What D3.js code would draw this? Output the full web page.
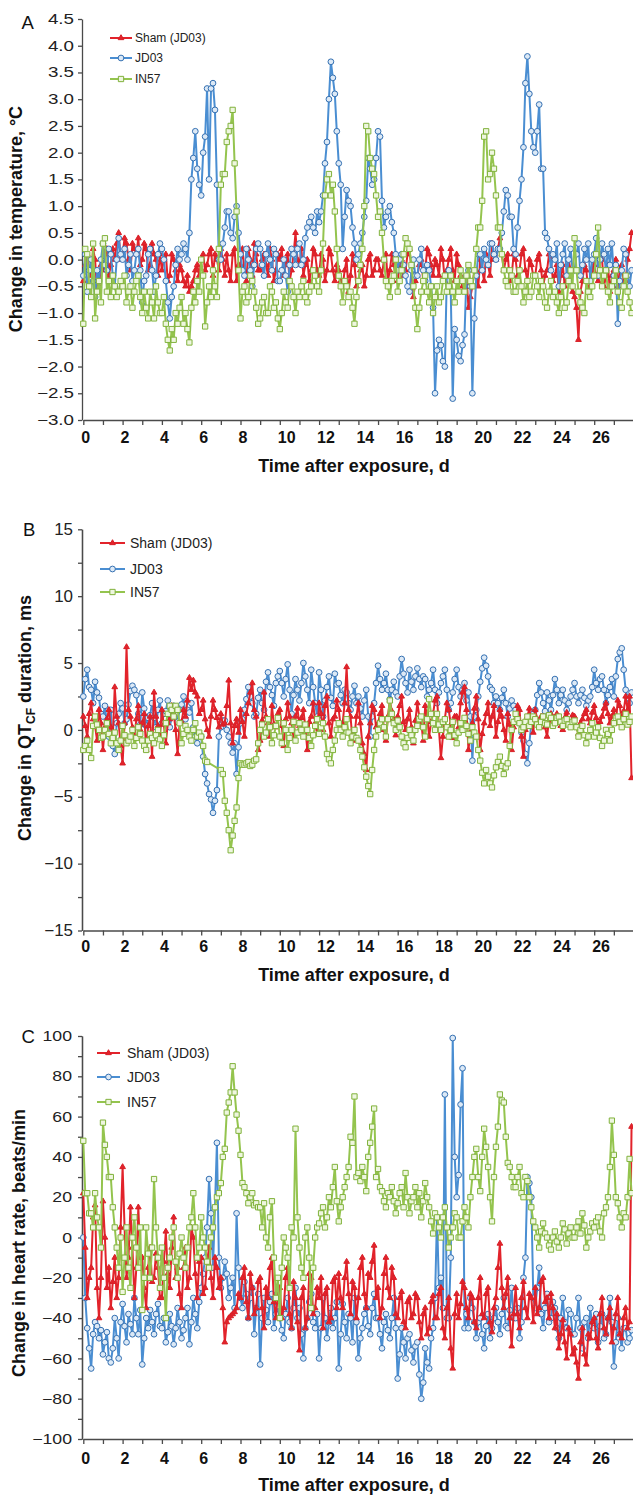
<!DOCTYPE html>
<html>
<head>
<meta charset="utf-8">
<script src="https://cdn.jsdelivr.net/npm/d3@7"></script>
<style>
  body { margin: 0; background: #fff; }
  svg { display: block; font-family: "Liberation Sans", Arial, sans-serif; }
</style>
</head>
<body>
<svg id="chart" width="633" height="1496"></svg>
<script>
// sampling grid: 10 readings per day, days 0 - 27.9 (one row per day below)
const timeDays = d3.range(280).map(i => i / 10);
const xTicks = d3.range(0, 29);

const seriesNames = ["Sham (JD03)", "JD03", "IN57"];

// Panel A: change in temperature (deg C)
const tempSham = [
  -0.4, -0.1, 0.1, -0.2, -0.3, 0.2, 0.0, -0.6, -0.5, -0.1,
  -0.2, 0.1, 0.2, -0.3, -0.1, 0.2, 0.0, 0.3, 0.5, 0.0,
  0.1, 0.4, 0.3, 0.0, -0.2, 0.3, 0.2, 0.1, 0.4, -0.1,
  0.0, 0.3, 0.2, -0.2, -0.1, 0.3, 0.1, 0.0, -0.3, 0.1,
  -0.2, 0.0, 0.1, -0.4, -0.3, 0.1, 0.0, -0.2, -0.4, -0.1,
  -0.2, -0.4, -0.5, -0.3, -0.6, -0.5, -0.4, -0.2, -0.1, -0.3,
  0.0, 0.1, -0.2, -0.1, 0.1, 0.2, -0.3, 0.1, 0.0, -0.2,
  0.2, 0.0, -0.3, 0.1, -0.2, -0.4, 0.1, 0.2, -0.4, -0.1,
  -0.1, 0.2, -0.2, -0.4, 0.2, 0.0, -0.3, 0.3, 0.1, -0.2,
  -0.2, 0.0, 0.1, -0.1, -0.3, 0.2, 0.0, -0.4, -0.2, 0.1,
  0.0, 0.2, -0.3, -0.1, 0.1, -0.4, -0.2, 0.1, 0.5, 0.0,
  -0.1, 0.2, -0.3, -0.1, 0.0, -0.4, -0.2, 0.2, 0.1, -0.2,
  -0.3, 0.1, 0.0, -0.4, -0.2, 0.2, 0.1, -0.2, -0.4, -0.1,
  -0.2, -0.4, -0.5, -0.2, 0.0, -0.6, -0.3, 0.1, -0.1, -0.5,
  -0.4, -0.2, -0.1, -0.5, -0.3, 0.0, 0.1, -0.3, -0.2, 0.0,
  0.0, -0.2, -0.3, 0.0, 0.1, -0.4, -0.2, 0.1, -0.1, -0.3,
  -0.4, -0.1, 0.0, -0.3, -0.2, 0.1, 0.2, -0.2, -0.7, -0.4,
  -0.3, -0.1, 0.0, -0.4, -0.2, 0.2, 0.1, -0.1, -0.3, 0.0,
  -0.1, -0.3, 0.2, 0.0, -0.4, -0.2, 0.0, 0.2, -0.2, -0.4,
  0.1, -0.1, -0.3, -0.5, -0.6, -0.3, -0.9, -0.7, -0.5, -0.2,
  -0.2, -0.5, 0.0, -0.2, -0.4, 0.1, -0.1, -0.3, 0.3, 0.0,
  0.0, 0.2, 0.4, 0.1, -0.2, 0.0, 0.1, -0.4, -0.3, 0.1,
  0.0, -0.3, -0.2, 0.1, 0.2, -0.2, -0.4, 0.0, -0.1, -0.3,
  -0.3, 0.0, 0.1, -0.2, -0.5, -0.3, -0.2, 0.1, 0.0, -0.4,
  -0.3, -0.1, -0.6, -0.3, -0.1, -0.5, -0.4, 0.0, -0.2, -0.6,
  -0.7, -0.9, -1.5, -0.6, -0.4, -0.1, -0.2, -0.6, -0.5, -0.2,
  -0.1, -0.3, -0.4, 0.1, 0.0, -0.5, -0.3, -0.1, -0.6, -0.3,
  -0.2, 0.0, -0.5, -0.2, -0.1, -0.4, -0.4, 0.0, 0.2, 0.5
];
const tempJD03 = [
  -0.3, 0.1, -0.6, -0.2, 0.0, -0.4, -0.7, -0.2, -0.4, 0.0,
  0.3, -0.1, -0.2, 0.2, 0.1, -0.3, -0.5, 0.0, 0.4, 0.1,
  0.0, 0.2, -0.3, -0.1, 0.1, -0.4, -0.2, 0.1, 0.2, -0.2,
  -0.8, -0.4, -0.3, 0.1, 0.2, -0.2, -0.6, -0.3, 0.1, 0.3,
  0.2, 0.0, -0.4, -0.8, -1.1, -0.7, -0.5, -0.1, 0.2, 0.0,
  0.1, 0.3, 0.2, 0.0, 0.5, 1.5, 1.9, 2.4, 1.7, 1.4,
  1.2, 2.0, 2.3, 3.2, 1.5, 3.2, 3.3, 2.8, 1.4, 0.0,
  0.0, 0.3, 0.6, 0.9, 0.9, 0.5, 0.4, 0.8, 1.0, 0.5,
  0.1, -0.2, -0.3, 0.2, 0.0, -0.2, -0.5, -0.1, 0.2, 0.3,
  0.2, -0.1, -0.3, 0.1, 0.3, 0.0, -0.2, 0.2, 0.1, -0.4,
  -0.4, -0.2, 0.0, -0.3, -0.6, -0.1, 0.2, 0.1, -0.1, 0.2,
  0.3, -0.1, 0.0, 0.4, 0.6, 0.7, 0.8, 0.6, 0.5, 0.9,
  0.7, 0.9, 1.2, 1.8, 2.2, 3.0, 3.7, 3.4, 3.1, 2.4,
  1.8, 1.4, 0.2, 0.8, 1.3, 1.1, 1.0, 0.6, 0.3, 0.0,
  0.1, 0.3, 0.5, 0.8, 1.1, 1.9, 1.7, 1.4, 1.5, 1.9,
  2.4, 2.3, 1.1, 0.6, 0.8, 0.9, 1.0, 0.7, 0.5, 0.1,
  -0.2, 0.0, 0.1, -0.1, -0.3, -0.5, -0.6, -0.2, 0.0, -0.3,
  -0.3, 0.0, 0.2, -0.2, -0.4, -0.1, -0.2, -0.5, -0.9, -2.5,
  -1.7, -1.5, -1.6, -1.9, -2.0, -0.3, -0.2, -0.6, -2.6, -1.3,
  -1.5, -1.8, -1.9, -1.6, -1.4, -0.3, -0.2, -0.5, -2.5, -1.1,
  -0.3, 0.1, 0.1, -0.2, 0.2, 0.0, -0.1, 0.3, 0.3, 0.1,
  0.0, 0.2, 0.2, 0.5, 0.9, 1.3, 1.2, 0.8, 0.8, 0.2,
  0.1, 0.6, 1.1, 1.5, 2.1, 3.3, 3.8, 3.1, 2.4, 2.1,
  2.0, 2.4, 2.9, 1.7, 1.7, 0.5, 0.4, 0.2, -0.2, 0.1,
  0.0, 0.3, -0.5, -0.1, 0.1, 0.3, -0.3, 0.0, 0.2, -0.2,
  -0.2, 0.1, 0.3, -0.3, -0.1, 0.2, 0.0, 0.3, -0.4, 0.0,
  0.1, 0.4, -0.3, 0.0, 0.3, 0.1, -0.2, 0.2, -0.1, 0.3,
  -0.3, -0.1, -1.2, -0.4, -0.2, 0.2, 0.1, -0.3, -0.5, -0.2
];
const tempIN57 = [
  -1.2, 0.2, 0.1, -0.5, -0.7, 0.3, -1.1, -0.6, -0.4, -0.8,
  0.3, 0.4, -0.6, -0.4, -0.7, -0.3, -0.5, -0.7, -0.6, -0.4,
  -0.5, -0.3, -0.8, -0.6, -0.5, -0.9, -0.6, -0.4, -0.3, -0.7,
  -1.0, -0.6, -0.9, -1.1, -0.6, -0.8, -1.1, -0.5, -0.8, -1.0,
  -1.0, -0.7, -1.2, -1.5, -1.7, -1.3, -1.5, -1.0, -1.2, -0.9,
  -0.7, -1.2, -1.0, -1.3, -1.55, -0.9, -0.6, -0.8, -0.4, -0.6,
  0.0, -0.3, -1.25, -0.8, -0.5, -0.7, -0.2, -0.5, -0.7, 0.2,
  1.4, 1.6, 1.6, 2.2, 2.4, 2.5, 2.8, 1.8, 0.9, -0.2,
  -1.1, -0.6, -0.5, -0.8, -0.7, -0.3, -0.4, -0.6, -0.9, -1.2,
  -1.1, -0.8, -0.7, -1.0, -1.0, -0.5, -0.6, -0.9, -0.8, -1.1,
  -1.3, -1.0, -0.6, -0.8, -0.9, -0.4, -0.5, -0.7, -1.0, -0.6,
  -0.7, -0.5, -0.4, -0.7, -0.8, -0.6, -0.5, -0.2, -0.3, -0.5,
  -0.6, -0.2, 0.3, 1.2, 1.5, 1.6, 1.2, 1.4, 0.9, 0.2,
  -0.3, -0.5, -0.8, -0.4, -0.5, -0.7, -0.6, -0.9, -1.2, -0.7,
  -0.4, -0.1, 0.2, 1.0, 2.5, 2.4, 1.9, 1.7, 1.6, 1.2,
  0.8, 0.9, 0.5, 0.0, -0.4, -0.5, -0.7, -0.4, -0.3, 0.0,
  -0.6, -0.4, -0.2, 0.1, 0.4, 0.3, 0.2, -0.1, -0.5, -0.9,
  -1.3, -0.9, -0.6, -0.4, -0.3, -0.6, -0.8, -0.5, -1.0, -0.7,
  -0.5, -0.8, -0.7, -0.4, -0.3, -0.6, -0.5, -0.3, -0.6, -0.8,
  -0.4, -0.6, -0.2, -0.4, -0.6, -0.3, -0.1, -0.4, -0.5, -0.2,
  0.2, 0.6, 0.6, 1.1, 2.3, 2.4, 1.5, 1.6, 2.0, 1.7,
  1.2, 0.6, 0.6, 0.1, -0.2, -0.4, -0.5, -0.2, -0.3, -0.6,
  -0.6, -0.4, -0.2, -0.5, -0.8, -0.6, -0.4, -0.7, -0.6, -0.3,
  -0.3, -0.5, -0.7, -0.4, -0.5, -0.8, -0.9, -0.6, -0.4, -0.7,
  -0.6, -0.8, -1.0, -0.7, -0.5, -0.9, -0.8, -0.4, -0.2, -0.5,
  0.4, -0.2, -0.6, -0.8, -0.9, -1.0, -0.4, -0.6, -0.7, -0.5,
  -0.3, 0.1, 0.6, -0.2, -0.5, -0.3, -0.2, -0.6, -0.8, -0.5,
  -0.4, -0.2, -0.6, -0.8, -0.9, -0.5, -0.3, -0.6, -0.8, -1.0
];

// Panel B: change in QTcf duration (ms)
const qtSham = [
  1.0, 0.3, -0.5, 1.2, 2.0, 0.8, 0.3, -0.8, 1.5, 0.5,
  -1.5, 0.2, 0.8, 1.5, 0.2, -0.6, 3.2, 1.0, 0.5, -1.2,
  -2.5, 0.5, 6.2, 1.5, 1.0, 0.2, -0.5, 0.8, 1.8, 0.0,
  0.5, 1.2, -1.5, 0.3, 1.0, -2.0, 2.8, 1.0, 0.3, -0.5,
  1.5, 0.4, -1.0, 0.5, 0.8, 1.8, 1.2, 0.0, -1.8, 0.5,
  0.6, 1.5, 1.0, 2.2, 3.9, 3.0, 3.7, 2.8, 2.5, 1.2,
  1.5, 2.2, 0.8, 0.0, -0.5, 1.0, 2.2, 1.5, 0.9, 0.2,
  1.2, 0.4, 0.5, 1.8, 3.7, 0.5, -1.0, 0.3, 0.8, -0.2,
  1.5, 0.6, -0.5, 1.2, 2.0, 2.8, 3.5, 1.5, 1.0, -1.5,
  -0.8, 0.7, 2.8, 1.0, 0.5, -0.5, 1.8, 0.4, 0.2, 1.2,
  1.5, 0.3, -1.2, 0.8, 2.0, 1.0, 0.5, -0.6, 1.0, 1.6,
  0.3, 0.9, 1.5, 0.2, -1.5, 0.6, 1.0, 2.0, 0.5, -0.3,
  2.0, 1.2, 0.0, 1.8, 2.5, 0.5, -0.5, 0.8, 1.0, 2.2,
  1.5, 0.2, 0.5, 2.0, 4.7, 1.5, 1.0, -0.8, -0.5, 1.0,
  2.0, 0.5, -1.0, -1.8, -3.0, -0.5, 0.5, 1.8, 1.5, 0.2,
  0.5, 1.2, 1.8, 0.0, -0.8, 1.0, 2.2, 1.4, 0.8, -0.4,
  1.0, 1.8, 2.5, 0.6, 0.0, 0.8, 1.5, 0.2, -1.0, 0.7,
  2.0, 1.0, 0.5, -0.8, 1.8, 1.0, -0.5, 0.6, 1.2, 2.2,
  2.5, 0.0, -2.1, -0.5, 0.8, 2.0, 1.5, 0.4, -0.6, 1.0,
  1.0, 0.2, 2.0, 2.8, 3.2, 1.5, -1.5, -0.2, 0.5, 1.6,
  2.5, 0.8, -1.5, -0.3, 0.5, 1.2, 2.0, 0.3, 1.0, 1.8,
  -0.5, 0.6, 1.5, 1.0, 0.0, -0.8, 1.2, 0.4, -1.5, 0.2,
  0.8, 1.8, 1.5, -0.5, -2.0, 0.0, 1.0, 1.6, 0.5, -0.2,
  1.5, 0.8, 0.3, 1.0, 1.0, 0.2, -0.5, 0.7, 1.2, 0.5,
  0.5, 1.2, 1.0, 0.3, 0.0, 0.9, 1.3, 0.6, 0.4, 1.1,
  1.0, 0.2, -0.3, 0.5, 0.8, 1.2, 1.5, 0.8, 0.5, 1.3,
  1.8, 0.9, 0.2, 0.6, 1.0, 1.6, 2.0, 1.2, 0.5, 1.0,
  1.5, 0.5, 2.2, 1.8, 0.8, 1.4, 2.5, 1.5, 2.5, -3.6
];
const qtJD03 = [
  2.5, 3.8, 4.5, 3.2, 3.0, 2.0, 3.6, 2.8, 2.4, 1.2,
  1.0, 1.8, 0.5, -0.5, 1.5, -1.2, -1.8, 0.5, 1.2, 2.0,
  1.6, 0.5, 0.8, 1.9, 2.9, 3.3, 3.0, 2.6, 1.2, 0.4,
  2.8, 1.6, 0.3, 0.9, 1.1, 2.0, 0.9, 0.2, 1.5, 2.2,
  0.5, 1.2, 1.4, 2.2, 0.2, 1.0, 1.8, 1.2, 0.6, 1.5,
  1.9, 2.5, 0.8, 1.5, 1.3, 2.0, 0.2, -0.5, -1.0, -0.3,
  -0.5, -2.0, -3.3, -4.0, -4.8, -5.2, -6.2, -5.3, -4.5, -0.5,
  0.2, 0.7, 0.7, 0.0, -0.5, -1.0, -1.7, -1.0, -3.3, -1.3,
  0.5, 0.8, 1.5, 2.3, 3.2, 2.5, 2.0, 1.0, 1.2, 2.4,
  3.0, 2.0, 1.5, 3.6, 4.3, 3.2, 2.6, 1.8, 3.5, 4.0,
  4.4, 3.5, 2.5, 3.8, 4.9, 3.0, 1.2, 2.6, 3.8, 3.0,
  2.2, 3.5, 5.0, 4.0, 3.0, 2.0, 4.5, 3.2, 2.0, 1.0,
  4.3, 3.0, 1.0, 2.2, 3.2, 4.0, 2.4, 1.8, 4.2, 3.4,
  3.5, 2.6, 2.0, 3.0, 2.8, 2.0, 1.5, 2.5, 3.3, 2.0,
  2.5, 1.6, 1.0, 2.2, 3.0, 1.0, -0.5, 1.0, 2.0, 3.5,
  4.8, 3.8, 3.0, 3.5, 4.2, 3.0, 2.3, 3.0, 3.6, 2.8,
  2.5, 4.0, 5.3, 4.2, 3.5, 2.8, 4.5, 3.6, 3.0, 4.0,
  4.6, 3.8, 3.2, 4.0, 3.8, 2.5, 3.0, 3.5, 4.5, 3.0,
  2.0, 2.8, 3.5, 4.0, 4.5, 3.0, 1.5, 2.0, 2.8, 3.8,
  4.5, 3.2, 2.5, 3.0, 3.5, 2.2, 2.8, 1.0, -2.3, 1.0,
  1.5, 2.5, 3.6, 4.6, 5.4, 4.8, 4.0, 3.2, 3.0, 2.0,
  2.5, 2.0, 1.5, 2.4, 3.0, 2.0, 1.0, 1.6, 2.2, 1.8,
  1.5, 1.0, 0.5, -0.2, -0.8, -1.8, -2.5, -1.0, 0.5, 1.2,
  1.5, 2.6, 3.5, 2.8, 2.0, 1.4, 2.8, 2.2, 1.5, 2.6,
  3.8, 3.0, 2.0, 2.6, 3.0, 2.2, 1.5, 2.0, 2.5, 3.0,
  3.5, 2.5, 2.0, 2.6, 3.0, 2.4, 1.8, 2.2, 2.5, 3.2,
  4.5, 3.5, 3.0, 3.8, 4.0, 3.0, 2.0, 2.6, 3.2, 3.8,
  2.5, 4.0, 5.3, 5.8, 6.1, 4.5, 3.0, 2.4, 2.0, 2.8
];
const qtIN57 = [
  -1.5, -1.2, -0.8, -1.5, -2.1, 0.3, 1.0, 0.4, 0.0, -0.6,
  -0.5, 0.0, 0.5, -0.3, -1.0, -0.6, -0.2, -1.0, -1.5, -0.8,
  0.3, -0.4, -1.0, -0.8, -0.5, 0.0, -1.2, -0.6, 0.2, -0.3,
  -0.8, -1.2, -1.5, -0.8, -0.3, -0.6, -1.0, -0.4, 0.0, -0.7,
  -1.2, -0.4, 0.5, 1.2, 1.8, 1.5, 1.0, 1.8, 1.5, 0.5,
  -1.0, -0.3, 0.3, 0.0, -0.5, -0.8, 0.0, 0.5, -0.5, -0.2,
  -0.5, -1.2, -2.3, -2.4, null, null, null, null, null, null,
  -3.0, -3.3, -5.3, -6.2, -7.5, -9.0, -7.9, -6.8, -5.8, -3.6,
  -2.5, -2.6, -2.6, -2.5, -2.4, -2.7, -2.6, -2.3, -2.2, -1.0,
  0.0, 0.4, -0.5, -0.2, 0.8, 0.2, -1.0, -0.4, 0.3, 0.9,
  -0.5, -1.0, 0.5, 0.0, -1.5, -0.6, 0.0, 0.6, -0.8, -0.2,
  0.5, 0.0, -0.5, 0.4, 0.0, -0.6, -1.2, -0.4, 0.3, 0.8,
  -0.3, 0.2, 0.5, -0.5, -1.8, -2.2, -2.5, -1.5, -0.8, 0.0,
  0.5, 0.0, -0.5, 0.2, 0.8, -0.2, -1.0, -0.5, 0.0, -0.6,
  -0.8, -1.5, -2.0, -2.8, -3.5, -4.2, -4.8, -3.0, -1.5, -0.5,
  0.0, 0.5, 0.8, 0.2, -0.5, 0.8, 2.2, 1.2, 0.5, 0.0,
  0.7, 0.2, -0.5, -1.0, -1.3, -0.6, 0.0, -0.4, -0.8, 0.0,
  0.3, 0.8, 1.0, 0.2, -0.5, 0.8, 2.3, 1.2, 0.5, 0.0,
  1.2, 0.4, 0.0, 0.6, 0.8, 0.2, -0.5, 0.0, 0.6, -0.4,
  -1.0, -0.2, 0.5, 0.0, 0.9, 0.3, -0.3, -0.8, 0.2, -0.2,
  -0.5, -1.5, -2.3, -3.2, -4.0, -3.0, -3.5, -4.0, -4.3, -3.4,
  -2.8, -2.4, -2.0, -2.7, -3.3, -2.8, -2.5, -1.2, 0.0, 0.6,
  1.2, 0.8, 0.5, 0.0, 0.2, 0.6, 1.0, 0.3, 0.6, 1.0,
  0.8, 0.4, 0.2, 0.6, 1.0, 0.5, 0.4, 1.1, 0.9, 0.3,
  0.5, 0.9, 1.0, 0.6, 0.3, 0.7, 0.8, 0.4, 0.2, 0.6,
  0.7, 0.2, -0.5, 0.0, 0.3, -0.4, -1.0, -0.5, 0.0, 0.5,
  -0.5, -0.2, 0.2, -0.6, -1.2, -0.8, 0.0, -0.3, -0.8, 0.0,
  0.5, 0.9, 1.0, 0.6, 0.2, 0.8, 1.2, 0.4, 0.6, 1.0
];

// Panel C: change in heart rate (beats/min)
const hrSham = [
  22, -5, -30, -20, -15, 10, 16, -25, -40, -20,
  18, 0, -25, -15, -35, -22, -10, -30, -20, 5,
  35, 5, -20, -10, 15, -5, -30, -15, 15, -10,
  -10, -25, -35, -15, -5, -22, -20, -8, -15, -30,
  -30, -12, 3, -18, -25, -5, 10, -20, -15, -28,
  -35, -15, -5, -25, -20, 5, 0, -18, -30, -12,
  -10, -28, -25, -12, -5, -20, -30, -10, -15, -25,
  -20, -35, -52, -42, -40, -39, -38, -37, -35, -28,
  -30, -20, -15, -32, -40, -18, -25, -38, -35, -22,
  -20, -35, -45, -25, -30, -15, -10, -32, -40, -28,
  -25, -40, -35, -20, -15, -38, -45, -22, -30, -42,
  -56, -30, -25, -45, -40, -18, -20, -38, -35, -25,
  -30, -20, -45, -28, -25, -42, -40, -22, -20, -35,
  -18, -30, -35, -20, -12, -28, -38, -22, -25, -40,
  -30, -15, -10, -28, -35, -18, -20, -12, -4, -30,
  -25, -40, -35, -18, -10, -25, -30, -15, -20, -38,
  -40, -30, -27, -42, -45, -32, -30, -40, -38, -28,
  -30, -42, -50, -38, -35, -48, -45, -32, -29, -40,
  -40, -28, -25, -45, -50, -35, -30, -55, -65, -38,
  -28, -40, -33, -22, -25, -35, -40, -28, -30, -42,
  -45, -30, -20, -38, -40, -28, -25, -42, -47, -35,
  -30, -15, -3, -25, -35, -28, -20, -40, -54, -38,
  -25, -38, -45, -30, -22, -35, -40, -28, -30, -42,
  -25, -38, -35, -22, -20, -32, -30, -40, -28, -35,
  -45, -38, -55, -48, -41, -52, -60, -45, -48, -58,
  -55, -62, -70, -52, -45, -58, -63, -48, -50, -42,
  -40, -50, -55, -38, -30, -45, -48, -40, -35, -52,
  -45, -38, -30, -48, -50, -40, -35, -45, -42, 55
];
const hrJD03 = [
  0, -30, -45, -55, -65, -48, -42, -44, -50, -46,
  -58, -52, -47, -60, -62, -55, -40, -50, -60, -42,
  -33, -44, -52, -38, -43, -48, -30, -40, -48, -36,
  -63, -50, -40, -45, -36, -42, -48, -38, -33, -44,
  -45, -40, -52, -47, -38, -44, -53, -45, -35, -42,
  -50, -46, -40, -35, -53, -42, -30, -38, -45, -32,
  -25, -18, -10, 5, 29, 12, -15, 15, 47, -10,
  -25, -20, -12, -18, -30, -25, -20, -35, 12, -15,
  -30, -35, -22, -28, -40, -30, -25, -48, -35, -28,
  -63, -40, -30, -36, -42, -32, -28, -45, -38, -34,
  -40, -46, -50, -38, -30, -42, -45, -35, -25, -40,
  -35, -48, -60, -45, -40, -32, -28, -42, -45, -38,
  -60, -45, -30, -40, -50, -42, -35, -45, -40, -32,
  -65, -48, -33, -42, -50, -38, -40, -52, -30, -42,
  -60, -50, -45, -38, -35, -44, -48, -35, -28, -40,
  -40, -48, -55, -42, -38, -46, -50, -40, -30, -45,
  -70, -58, -45, -52, -60, -50, -48, -56, -62, -54,
  -52, -68, -80, -72, -55, -62, -65, -50, -45, -30,
  10, -25, -20, -35, 71, -40, -40, -10, 99, 40,
  20, 31, 66, 84, -45, -38, -45, -30, -35, -42,
  -50, -42, -40, -48, -55, -44, -38, -50, -45, -40,
  -35, -42, -48, -38, -30, -44, -45, -36, -25, -40,
  -40, -35, -50, -42, -20, -10, 30, 27, 20, -30,
  -35, -25, -15, -38, -45, -35, -28, -42, -40, -32,
  -35, -45, -50, -40, -30, -42, -45, -36, -38, -48,
  -48, -40, -30, -45, -55, -42, -40, -50, -35, -44,
  -45, -38, -52, -44, -38, -50, -48, -40, -30, -42,
  -64, -52, -40, -48, -55, -45, -45, -52, -50, -46
];
const hrIN57 = [
  48, 22, 22, 12, 12, 5, 22, 10, 5, -5,
  57, 46, 40, 30, 30, 15, 5, -5, -15, 0,
  -27, -10, 5, -15, -25, 0, 10, -5, -15, 5,
  -36, -20, 5, -8, -20, -5, 29, 5, -10, -25,
  -5, -20, -40, -15, -10, 0, 5, -12, -20, -8,
  0, -10, -15, -5, 5, 10, 22, 5, -10, -5,
  10, 0, -5, -12, -15, 0, 5, 15, 20, 22,
  27, 40, 44, 62, 67, 72, 85, 72, 61, 53,
  41, 27, 25, 22, 17, 20, 22, 16, 17, 15,
  15, 5, 17, 0, -5, 10, 18, -10, -30, -20,
  -40, -15, 0, -5, -10, -25, 5, 0, 54, 10,
  -5, -15, -20, 0, 5, -10, -35, -15, 0, 5,
  7, 12, 15, 5, 10, 20, 15, 25, 35, 18,
  8, 15, 20, 25, 30, 35, 50, 47, 70, 30,
  32, 28, 35, 30, 23, 40, 47, 55, 64, 30,
  34, 25, 23, 18, 15, 22, 20, 25, 18, 12,
  17, 22, 25, 15, 32, 20, 12, 18, 20, 25,
  15, 22, 10, 18, 27, 20, 15, 8, 2, 12,
  10, 5, 0, 10, 15, 5, -5, 0, 5, 12,
  10, 0, 0, 8, 15, 10, 5, 20, 30, 40,
  44, 30, 23, 40, 54, 45, 35, 20, 8, 30,
  45, 55, 71, 68, 67, 50, 37, 35, 30, 25,
  25, 30, 35, 22, 20, 30, 28, 20, 15, 8,
  5, 0, -5, 3, 7, 2, 0, -4, -6, 0,
  3, -2, -5, 0, 7, 4, -3, 2, 5, 0,
  0, 5, 8, 2, 12, 6, -5, 0, 3, 7,
  5, 8, 10, 3, 0, 12, 15, 20, 35, 58,
  41, 20, 17, 10, 5, 12, 10, 20, 39, 22
];

const yTicksA = [-3, -2.5, -2, -1.5, -1, -0.5, 0, 0.5, 1, 1.5, 2, 2.5, 3, 3.5, 4, 4.5];
const yTicksB = [-15, -10, -5, 0, 5, 10, 15];
const yMinorB = [-12.5, -7.5, -2.5, 2.5, 7.5, 12.5];
const yTicksC = [-100, -80, -60, -40, -20, 0, 20, 40, 60, 80, 100];
const yMinorC = [-90, -70, -50, -30, -10, 10, 30, 50, 70, 90];

// series styling
const styles = {
  "Sham (JD03)": { line: "#e2232b", stroke: "#d81f27", fill: "#e2232b", symbol: d3.symbolTriangle, size: 14 },
  "JD03": { line: "#4a8ed2", stroke: "#3470b2", fill: "#dce9f6", symbol: d3.symbolCircle, size: 26 },
  "IN57": { line: "#94c44e", stroke: "#80b23c", fill: "#eef6df", symbol: d3.symbolSquare, size: 28 }
};

const panels = [
  {
    letter: "A", top: 19, bottom: 420, domain: [-3, 4.5],
    ticks: yTicksA, minor: [], fmt: d3.format(".1f"),
    tickFont: 14, tickSx: 1.34, tickGap: 8,
    series: { "Sham (JD03)": tempSham, "JD03": tempJD03, "IN57": tempIN57 },
    order: ["Sham (JD03)", "JD03", "IN57"],
    legend: { x1: 110, x2: 132, tx: 135, ys: [38, 58, 79], font: 12 },
    letterPos: [21.5, 28.5],
    yTitle: { x: 21.5, y: 219 },
    xLabelY: 12, xTitleY: 472
  },
  {
    letter: "B", top: 529.3, bottom: 930.5, domain: [-15, 15],
    ticks: yTicksB, minor: yMinorB, fmt: d3.format("d"),
    tickFont: 16, tickSx: 1.06, tickGap: 9,
    series: { "Sham (JD03)": qtSham, "JD03": qtJD03, "IN57": qtIN57 },
    order: ["JD03", "Sham (JD03)", "IN57"],
    legend: { x1: 100, x2: 125, tx: 130, ys: [543, 569, 592], font: 14 },
    letterPos: [23, 536],
    yTitle: { x: 31, y: 718 },
    xLabelY: 10.5, xTitleY: 981
  },
  {
    letter: "C", top: 1036, bottom: 1439, domain: [-100, 100],
    ticks: yTicksC, minor: yMinorC, fmt: d3.format("d"),
    tickFont: 14.5, tickSx: 1.22, tickGap: 10,
    series: { "Sham (JD03)": hrSham, "JD03": hrJD03, "IN57": hrIN57 },
    order: ["JD03", "Sham (JD03)", "IN57"],
    legend: { x1: 97, x2: 120, tx: 127, ys: [1053, 1077, 1102], font: 14 },
    letterPos: [21.5, 1043],
    yTitle: { x: 24.5, y: 1243 },
    xLabelY: 13.5, xTitleY: 1491
  }
];

const svg = d3.select("#chart");
const axisColor = "#4a4a4a";

const x = d3.scaleLinear().domain([0, 28]).range([83.3, 633.5]);

panels.forEach(function(p) {
  const g = svg.append("g");
  const y = d3.scaleLinear().domain(p.domain).range([p.bottom, p.top]);

  // x axis
  const xAxis = g.append("g")
    .attr("transform", `translate(0, ${p.bottom})`)
    .call(d3.axisBottom(x).tickValues(xTicks).tickSize(5).tickSizeOuter(0)
      .tickFormat(d => (d % 2 === 0 && d < 28) ? d : ""));
  xAxis.selectAll("text")
    .attr("text-anchor", "start")
    .attr("x", -2.5)
    .attr("y", p.xLabelY)
    .attr("font-size", 16)
    .attr("font-weight", "bold")
    .attr("fill", "#111");

  // y axis with stretched labels
  const yAxis = g.append("g")
    .attr("transform", "translate(82, 0)")
    .call(d3.axisLeft(y).tickValues(p.ticks).tickSize(4).tickSizeOuter(0).tickFormat(p.fmt));
  yAxis.selectAll("text")
    .attr("font-size", p.tickFont)
    .attr("fill", "#222")
    .attr("transform", `scale(${p.tickSx},1)`)
    .attr("x", -p.tickGap / p.tickSx);
  if (p.minor.length) {
    g.append("g")
      .attr("transform", "translate(82, 0)")
      .call(d3.axisLeft(y).tickValues(p.minor).tickSize(4).tickSizeOuter(0).tickFormat(""));
  }
  g.selectAll(".domain, .tick line").attr("stroke", axisColor).attr("stroke-width", 1.3);

  // series
  p.order.forEach(function(name) {
    const st = styles[name];
    const pts = timeDays.map((t, i) => ({ t: t, v: p.series[name][i] }))
      .filter(d => d.v !== null && d.v !== undefined);
    const line = d3.line().x(d => x(d.t)).y(d => y(d.v));
    g.append("path")
      .datum(pts)
      .attr("fill", "none")
      .attr("stroke", st.line)
      .attr("stroke-width", 2)
      .attr("stroke-linejoin", "round")
      .attr("d", line);
    g.append("g").selectAll("path")
      .data(pts)
      .enter()
      .append("path")
      .attr("transform", d => `translate(${x(d.t)},${y(d.v)})`)
      .attr("d", d3.symbol().type(st.symbol).size(st.size))
      .attr("fill", st.fill)
      .attr("stroke", st.stroke)
      .attr("stroke-width", 1);
  });

  // legend
  seriesNames.forEach(function(name, i) {
    const st = styles[name];
    const ly = p.legend.ys[i];
    g.append("line")
      .attr("x1", p.legend.x1).attr("x2", p.legend.x2)
      .attr("y1", ly).attr("y2", ly)
      .attr("stroke", st.line).attr("stroke-width", 2);
    g.append("path")
      .attr("transform", `translate(${(p.legend.x1 + p.legend.x2) / 2},${ly})`)
      .attr("d", d3.symbol().type(st.symbol).size(st.size))
      .attr("fill", st.fill)
      .attr("stroke", st.stroke)
      .attr("stroke-width", 1);
    g.append("text")
      .attr("x", p.legend.tx)
      .attr("y", ly)
      .attr("dy", "0.35em")
      .attr("font-size", p.legend.font)
      .attr("fill", "#222")
      .text(name);
  });

  // panel letter
  g.append("text")
    .attr("x", p.letterPos[0]).attr("y", p.letterPos[1])
    .attr("font-size", 18.5)
    .attr("fill", "#111")
    .text(p.letter);

  // axis titles
  g.append("text")
    .attr("x", 354).attr("y", p.xTitleY)
    .attr("text-anchor", "middle")
    .attr("font-size", 18)
    .attr("font-weight", "bold")
    .attr("fill", "#111")
    .text("Time after exposure, d");

  const yt = g.append("text")
    .attr("transform", `translate(${p.yTitle.x},${p.yTitle.y}) rotate(-90)`)
    .attr("text-anchor", "middle")
    .attr("font-size", 18)
    .attr("font-weight", "bold")
    .attr("fill", "#111");
  if (p.letter === "A") {
    yt.text("Change in temperature, °C");
  } else if (p.letter === "B") {
    yt.append("tspan").text("Change in QT");
    yt.append("tspan").attr("font-size", 12).attr("dy", 4).text("CF");
    yt.append("tspan").attr("dy", -4).text(" duration, ms");
  } else {
    yt.text("Change in heart rate, beats/min");
  }
});
</script>
</body>
</html>
